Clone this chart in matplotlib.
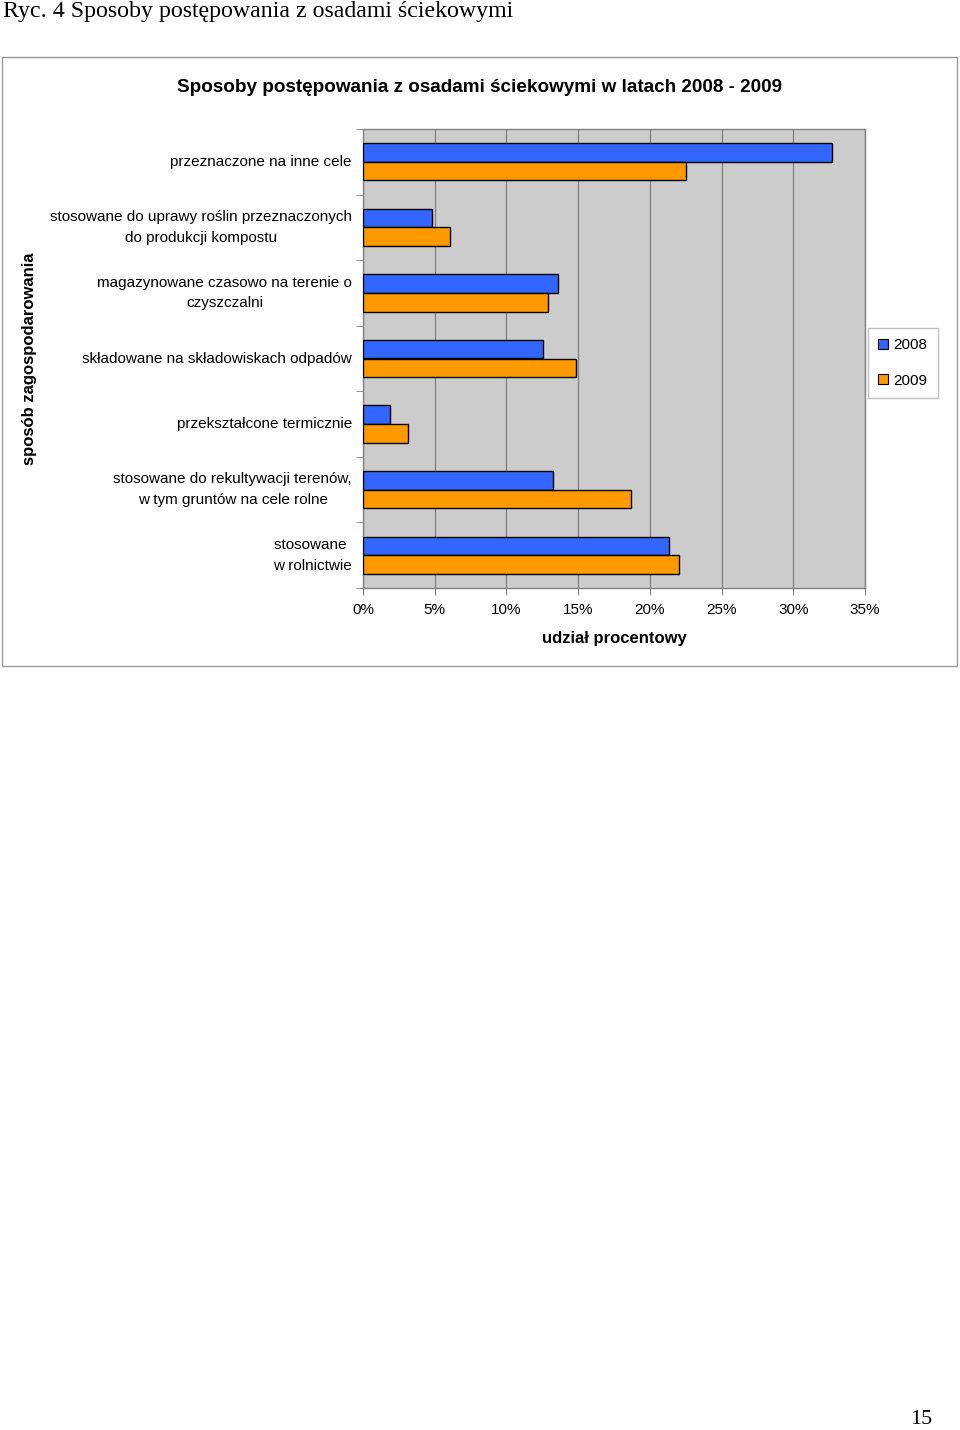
import matplotlib
matplotlib.use("Agg")
import matplotlib.pyplot as plt
from matplotlib.patches import Patch, Rectangle
import numpy as np

plt.rcParams['font.family'] = ['Liberation Sans', 'DejaVu Sans']

kategorie = [
    "przeznaczone na inne cele",
    "stosowane do uprawy roślin przeznaczonych\ndo produkcji kompostu",
    "magazynowane czasowo na terenie o\nczyszczalni",
    "składowane na składowiskach odpadów",
    "przekształcone termicznie",
    "stosowane do rekultywacji terenów,\nw tym gruntów na cele rolne",
    "stosowane \nw rolnictwie",
]
udzial_2008 = [32.7, 4.8, 13.6, 12.55, 1.9, 13.25, 21.3]
udzial_2009 = [22.55, 6.1, 12.9, 14.85, 3.15, 18.7, 22.0]
lata = ["2008", "2009"]
x_ticks = [0, 5, 10, 15, 20, 25, 30, 35]

kolor_2008 = "#3366FF"
kolor_2009 = "#FF9900"
szary = "#808080"

fig = plt.figure(figsize=(9.6, 14.3), dpi=100)
W, H = 960, 1430

# ramka wykresu
fig.patches.append(Rectangle((2 / W, 1 - 666 / H), 955 / W, 609 / H,
                             transform=fig.transFigure, fill=False,
                             edgecolor="#9a9a9a", linewidth=1.0))

ax = fig.add_axes([363 / W, 1 - 588 / H, 502 / W, 459 / H])
ax.set_facecolor("#CCCCCC")

n = len(kategorie)
y = np.arange(n)
h = 0.285
ax.barh(y - h / 2, udzial_2008, height=h, color=kolor_2008,
        edgecolor="black", linewidth=1.0, zorder=3)
ax.barh(y + h / 2, udzial_2009, height=h, color=kolor_2009,
        edgecolor="black", linewidth=1.0, zorder=3)

ax.set_ylim(n - 0.5, -0.5)
ax.set_xlim(0, 35)

ax.set_yticks(y)
ax.set_yticklabels(kategorie, fontsize=11, multialignment="center",
                   linespacing=1.6)
for lbl in ax.get_yticklabels():
    lbl.set_verticalalignment("center")
ax.set_yticks(np.arange(n + 1) - 0.5, minor=True)
ax.tick_params(axis="y", which="major", length=0, pad=8)
ax.tick_params(axis="y", which="minor", length=5, color=szary)

ax.set_xticks(x_ticks)
ax.set_xticklabels([f"{t}%" for t in x_ticks], fontsize=11)
ax.tick_params(axis="x", length=5, color=szary, pad=6)

ax.grid(axis="x", color=szary, linewidth=0.9, zorder=1)
for s in ax.spines.values():
    s.set_color(szary)
    s.set_linewidth(1.0)

ax.set_xlabel("udział procentowy", fontsize=12, fontweight="bold", labelpad=10)

fig.text(30 / W, 1 - 359 / H, "sposób zagospodarowania", rotation=90,
         fontsize=12, fontweight="bold", ha="center", va="center")

fig.text(0.5, 1 - 87 / H,
         "Sposoby postępowania z osadami ściekowymi w latach 2008 - 2009",
         fontsize=13.6, fontweight="bold", ha="center", va="center")

fig.text(3 / W, 1 - 12 / H, "Ryc. 4 Sposoby postępowania z osadami ściekowymi",
         fontsize=17.2, family=["Liberation Serif", "DejaVu Serif"],
         ha="left", va="center")

fig.text(921 / W, 1 - 1420 / H, "15", fontsize=16,
         family=["Liberation Serif", "DejaVu Serif"], ha="center", va="center")

uchwyty = [Patch(facecolor=kolor_2008, edgecolor="black", linewidth=0.8),
           Patch(facecolor=kolor_2009, edgecolor="black", linewidth=0.8)]
leg = fig.legend(uchwyty, lata, loc="center",
                 bbox_to_anchor=(903 / W, 1 - 363 / H),
                 fontsize=11, handlelength=0.6, handleheight=0.6,
                 handletextpad=0.4, labelspacing=1.4, fancybox=False,
                 borderpad=0.7, borderaxespad=0)
leg.get_frame().set_edgecolor("#b0b0b0")
leg.get_frame().set_linewidth(1.0)

fig.savefig("out.png", dpi=100, facecolor="white")
